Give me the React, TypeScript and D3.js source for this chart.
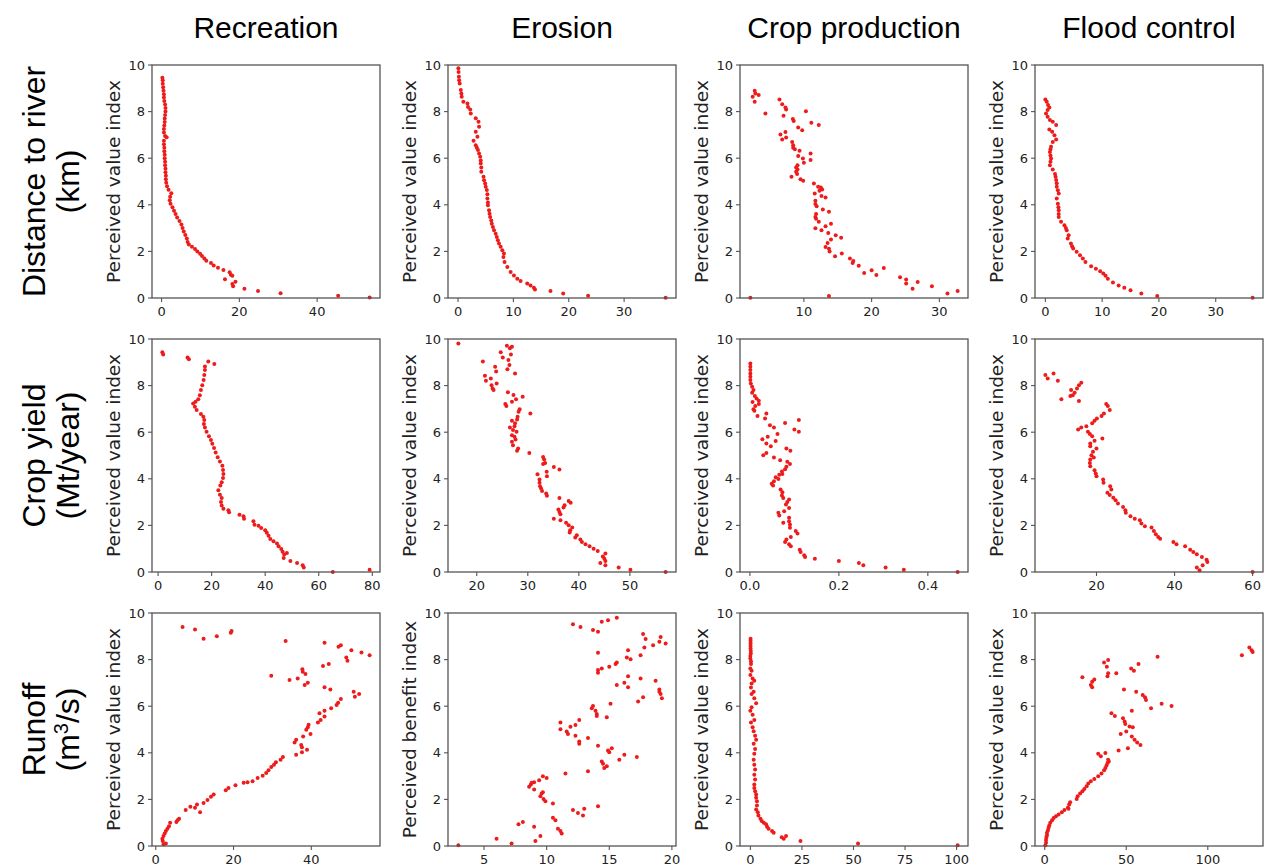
import React from "react";
import * as d3 from "d3";

type Pt = [number, number];

const columnTitles = ["Recreation", "Erosion", "Crop production", "Flood control"];
const rowTitles: [string, string][] = [
  ["Distance to river", "(km)"],
  ["Crop yield", "(Mt/year)"],
  ["Runoff", "(m3/s)"],
];

// row 1: distance to river
const recreationDistance: Pt[] = [
  [0.2, 9.45], [0.3, 9.35], [0.3, 9.2], [0.4, 9.05], [0.5, 8.9], [0.6, 8.75], [0.6, 8.6], [0.7, 8.45],
  [0.9, 8.3], [1.0, 8.15], [1.0, 8.0], [0.9, 7.85], [0.8, 7.7], [0.8, 7.55], [0.7, 7.4], [0.6, 7.25],
  [0.6, 7.1], [0.9, 6.95], [1.3, 6.9], [0.6, 6.75], [0.6, 6.6], [0.7, 6.45], [0.7, 6.3], [0.8, 6.15],
  [0.8, 6.0], [0.9, 5.85], [0.9, 5.7], [1.0, 5.55], [1.0, 5.4], [1.1, 5.25], [1.1, 5.1], [1.2, 4.95],
  [1.4, 4.8], [1.8, 4.65], [2.5, 4.5], [2.2, 4.35], [2.1, 4.2], [2.3, 4.05], [2.8, 3.9], [3.2, 3.75],
  [3.6, 3.6], [4.0, 3.45], [4.6, 3.3], [5.1, 3.15], [5.4, 3.0], [5.7, 2.85], [6.1, 2.7], [6.5, 2.55],
  [6.7, 2.4], [7.0, 2.3], [7.8, 2.2], [8.6, 2.1], [9.2, 2.0], [9.9, 1.9], [10.4, 1.8], [11.0, 1.7],
  [11.5, 1.6], [12.7, 1.5], [13.4, 1.4], [14.5, 1.3], [15.9, 1.2], [17.5, 1.1], [17.8, 1.0], [18.2, 0.95],
  [16.3, 0.8], [19.0, 0.7], [18.2, 0.6], [18.4, 0.5], [21.3, 0.4], [24.8, 0.3], [30.6, 0.2], [45.4, 0.1],
  [53.5, 0.02],
];
const erosionDistance: Pt[] = [
  [0.06, 9.86], [0.1, 9.7], [0.15, 9.5], [0.2, 9.35], [0.3, 9.21], [0.5, 8.93], [0.6, 8.78], [0.66, 8.64],
  [0.96, 8.42], [1.7, 8.35], [1.8, 8.2], [2.2, 8.09], [2.3, 7.92], [3.2, 7.71], [3.7, 7.56], [3.8, 7.35],
  [3.2, 7.13], [3.5, 6.92], [2.8, 6.75], [3.2, 6.56], [3.4, 6.45], [3.6, 6.35], [3.8, 6.2], [4.0, 6.06],
  [4.1, 5.9], [4.1, 5.77], [4.2, 5.6], [4.2, 5.42], [4.6, 5.2], [4.7, 5.05], [4.9, 4.91], [5.0, 4.77],
  [5.2, 4.63], [5.3, 4.45], [5.3, 4.27], [5.4, 4.1], [5.4, 3.98], [5.6, 3.77], [5.7, 3.62], [5.8, 3.48],
  [6.0, 3.33], [6.1, 3.19], [6.3, 3.05], [6.5, 2.91], [6.8, 2.76], [7.0, 2.62], [7.2, 2.48], [7.4, 2.34],
  [7.7, 2.2], [8.0, 2.05], [8.3, 1.91], [8.2, 1.76], [8.4, 1.55], [8.9, 1.33], [9.5, 1.12], [10.1, 0.97],
  [10.7, 0.83], [11.3, 0.73], [12.5, 0.62], [13.1, 0.54], [13.7, 0.44], [13.9, 0.36], [16.7, 0.3],
  [19.0, 0.19], [23.5, 0.1], [37.5, 0.01],
];
const cropDistance: Pt[] = [
  [2.44, 8.64], [2.74, 8.9], [2.84, 8.78], [3.33, 8.71], [2.74, 8.42], [4.32, 7.92], [6.4, 8.52], [6.8, 8.32],
  [7.28, 8.18], [7.38, 8.09], [7.0, 7.82], [8.37, 7.68], [8.5, 7.6], [10.3, 8.02], [11.1, 7.52], [12.2, 7.42],
  [9.16, 7.32], [9.75, 7.2], [7.28, 7.12], [6.54, 7.02], [7.38, 6.89], [6.8, 6.8], [8.27, 6.7], [8.42, 6.56],
  [8.42, 6.45], [8.67, 6.38], [9.36, 6.32], [10.99, 6.2], [9.16, 6.09], [9.86, 5.99], [10.99, 5.92], [10.0, 5.8],
  [9.06, 5.7], [8.86, 5.6], [9.06, 5.52], [8.86, 5.42], [9.0, 5.32], [8.17, 5.2], [9.5, 5.1], [9.9, 5.03],
  [11.48, 4.91], [12.1, 4.77], [12.5, 4.74], [12.7, 4.66], [11.6, 4.48], [12.3, 4.6], [12.6, 4.38], [13.2, 4.31],
  [11.7, 4.17], [11.7, 4.03], [11.88, 3.94], [12.8, 3.8], [13.7, 3.7], [11.8, 3.6], [11.7, 3.48], [11.8, 3.4],
  [12.2, 3.27], [14.0, 3.19], [11.7, 2.99], [12.6, 2.91], [13.2, 3.08], [13.6, 2.79], [14.7, 2.69], [15.5, 2.59],
  [14.0, 2.51], [13.5, 2.36], [13.2, 2.19], [13.7, 2.11], [13.8, 2.0], [15.6, 1.91], [14.6, 1.79], [16.8, 1.69],
  [17.3, 1.59], [17.2, 1.5], [18.1, 1.38], [20.0, 1.19], [21.8, 1.29], [18.9, 1.07], [20.7, 0.99], [24.2, 0.89],
  [25.1, 0.79], [25.1, 0.62], [26.8, 0.69], [26.05, 0.4], [28.9, 0.5], [31.2, 0.19], [32.7, 0.3], [2.1, 0.01],
  [13.7, 0.09],
];
const floodDistance: Pt[] = [
  [0.0, 8.52], [0.24, 8.42], [0.47, 8.28], [0.7, 8.18], [0.4, 8.07], [0.12, 7.92], [0.4, 7.78], [0.8, 7.64],
  [1.3, 7.56], [1.9, 7.42], [0.7, 7.23], [1.2, 7.13], [1.6, 6.99], [1.9, 6.8], [1.3, 6.7], [1.0, 6.49],
  [0.9, 6.38], [0.8, 6.27], [0.9, 6.12], [1.0, 5.99], [0.9, 5.85], [0.8, 5.7], [1.3, 5.52], [1.7, 5.32],
  [1.8, 5.2], [1.9, 5.06], [2.0, 4.92], [2.0, 4.77], [2.2, 4.62], [2.35, 4.48], [2.0, 4.27], [2.2, 4.05],
  [2.3, 3.9], [2.35, 3.77], [2.35, 3.6], [2.35, 3.48], [2.76, 3.27], [3.35, 3.12], [3.6, 3.0], [3.76, 2.91],
  [4.1, 2.69], [3.94, 2.55], [4.5, 2.34], [4.7, 2.22], [4.9, 2.12], [5.5, 1.98], [6.1, 1.83], [6.6, 1.69],
  [7.06, 1.55], [8.06, 1.36], [8.9, 1.26], [9.65, 1.15], [10.2, 1.05], [10.6, 0.95], [11.0, 0.83], [11.9, 0.66],
  [12.9, 0.54], [13.9, 0.44], [15.0, 0.33], [16.9, 0.19], [19.7, 0.09], [36.5, 0.01],
];

// row 2: crop yield
const recreationYield: Pt[] = [
  [1.6, 9.43], [1.9, 9.34], [11.0, 9.21], [11.5, 9.13], [18.75, 9.03], [21.0, 8.93], [17.5, 8.82], [17.5, 8.67],
  [17.25, 8.45], [17.0, 8.24], [16.5, 8.02], [16.0, 7.81], [15.6, 7.59], [15.0, 7.41], [14.0, 7.31], [13.1, 7.23],
  [13.75, 7.09], [14.4, 6.95], [16.0, 6.78], [16.9, 6.66], [17.25, 6.52], [17.1, 6.35], [17.5, 6.2], [18.1, 6.02],
  [19.0, 5.83], [19.75, 5.67], [20.25, 5.5], [20.9, 5.32], [21.5, 5.13], [22.25, 4.93], [23.1, 4.74], [24.0, 4.56],
  [24.25, 4.38], [24.4, 4.21], [24.25, 4.03], [23.75, 3.85], [23.25, 3.71], [22.5, 3.51], [23.1, 3.32], [23.75, 3.18],
  [23.5, 3.0], [23.75, 2.85], [24.4, 2.71], [26.25, 2.65], [26.5, 2.56], [30.4, 2.46], [31.9, 2.39], [32.1, 2.29],
  [35.6, 2.18], [36.0, 2.03], [37.5, 1.99], [38.5, 1.89], [40.0, 1.79], [40.6, 1.68], [41.25, 1.56], [41.9, 1.42],
  [43.1, 1.32], [44.4, 1.22], [45.0, 1.1], [46.0, 0.99], [46.5, 0.87], [47.1, 0.75], [48.1, 0.82], [46.9, 0.6],
  [49.4, 0.47], [51.9, 0.39], [54.0, 0.29], [54.4, 0.19], [65.25, 0.0], [79.0, 0.1],
];
const erosionYield: Pt[] = [
  [16.4, 9.81], [21.2, 9.03], [21.6, 8.42], [21.8, 8.21], [22.75, 8.31], [22.9, 8.02], [23.1, 7.88], [23.3, 7.81],
  [23.9, 8.09], [23.6, 8.81], [23.8, 8.6], [24.7, 9.43], [25.1, 9.21], [25.9, 9.71], [26.5, 9.6], [26.9, 9.67],
  [26.7, 9.34], [26.2, 9.1], [26.4, 8.88], [26.0, 8.7], [27.5, 8.52], [26.1, 7.71], [27.2, 7.6], [29.0, 7.52],
  [27.7, 7.41], [26.9, 7.31], [25.6, 7.21], [25.8, 7.12], [28.4, 6.98], [28.2, 6.88], [30.5, 6.8], [28.0, 6.66],
  [27.9, 6.55], [26.9, 6.49], [27.5, 6.38], [27.4, 6.26], [26.5, 6.2], [27.1, 6.09], [27.8, 6.02], [26.9, 5.87],
  [27.4, 5.8], [27.6, 5.69], [26.9, 5.59], [27.1, 5.44], [28.1, 5.3], [27.9, 5.2], [30.3, 5.11], [33.0, 4.94],
  [33.2, 4.83], [33.4, 4.68], [33.0, 4.63], [35.1, 4.51], [36.2, 4.4], [33.7, 4.3], [31.9, 4.2], [33.75, 4.11],
  [32.3, 3.97], [32.3, 3.83], [32.4, 3.68], [32.6, 3.58], [32.8, 3.48], [33.6, 3.37], [33.75, 3.27], [36.2, 3.18],
  [38.0, 3.05], [38.4, 2.97], [37.2, 2.87], [37.0, 2.77], [36.0, 2.68], [36.2, 2.58], [36.4, 2.48], [35.1, 2.29],
  [36.4, 2.22], [37.5, 2.11], [38.0, 2.01], [38.7, 1.91], [38.3, 1.79], [38.2, 1.69], [39.6, 1.58], [39.3, 1.48],
  [40.3, 1.39], [40.6, 1.29], [41.3, 1.19], [42.1, 1.1], [42.9, 1.0], [43.7, 0.9], [45.2, 0.79], [44.7, 0.67],
  [45.0, 0.57], [45.2, 0.47], [44.2, 0.39], [45.2, 0.29], [47.8, 0.19], [50.1, 0.1], [57.0, 0.0],
];
const cropYield: Pt[] = [
  [0.001, 8.95], [0.001, 8.81], [0.001, 8.67], [0.001, 8.52], [0.001, 8.38], [0.001, 8.24], [0.002, 8.09],
  [0.005, 7.95], [0.008, 7.81], [0.005, 7.69], [0.011, 7.55], [0.015, 7.45], [0.02, 7.35], [0.006, 7.3],
  [0.02, 7.21], [0.012, 7.12], [0.008, 6.98], [0.01, 6.92], [0.037, 6.8], [0.017, 6.69], [0.034, 6.59],
  [0.11, 6.52], [0.045, 6.3], [0.1, 6.12], [0.11, 6.02], [0.054, 6.2], [0.079, 6.4], [0.062, 5.92], [0.04, 5.8],
  [0.028, 5.7], [0.058, 5.62], [0.037, 5.52], [0.047, 5.4], [0.082, 5.3], [0.091, 5.2], [0.037, 5.11], [0.03, 5.01],
  [0.054, 4.91], [0.068, 4.8], [0.084, 4.73], [0.09, 4.63], [0.082, 4.52], [0.079, 4.41], [0.072, 4.31],
  [0.066, 4.17], [0.058, 4.07], [0.073, 4.21], [0.064, 3.99], [0.054, 3.89], [0.049, 3.79], [0.052, 3.71],
  [0.069, 3.54], [0.073, 3.42], [0.072, 3.28], [0.075, 3.18], [0.088, 3.11], [0.084, 3.0], [0.081, 2.9],
  [0.088, 2.75], [0.077, 2.61], [0.064, 2.54], [0.066, 2.43], [0.088, 2.33], [0.088, 2.18], [0.075, 2.11],
  [0.09, 2.04], [0.09, 1.9], [0.103, 1.76], [0.107, 1.65], [0.092, 1.5], [0.082, 1.39], [0.079, 1.29],
  [0.088, 1.19], [0.092, 1.1], [0.112, 0.96], [0.114, 0.86], [0.122, 0.72], [0.124, 0.64], [0.146, 0.57],
  [0.2, 0.47], [0.245, 0.39], [0.255, 0.29], [0.305, 0.19], [0.346, 0.1], [0.467, 0.0],
];
const floodYield: Pt[] = [
  [6.9, 8.45], [7.5, 8.31], [9.0, 8.52], [10.1, 8.21], [11.0, 7.41], [13.5, 7.81], [13.3, 7.55], [14.4, 7.69],
  [15.0, 7.88], [15.5, 8.02], [16.1, 8.12], [13.9, 7.59], [15.5, 7.34], [22.5, 7.21], [22.9, 7.12], [23.4, 6.95],
  [21.9, 6.8], [21.3, 6.69], [20.1, 6.59], [19.5, 6.49], [18.9, 6.38], [17.4, 6.26], [16.1, 6.2], [15.3, 6.12],
  [17.8, 6.02], [18.3, 5.92], [18.9, 5.83], [21.5, 5.73], [19.5, 5.63], [18.4, 5.52], [18.4, 5.4], [20.0, 5.3],
  [19.1, 5.16], [18.7, 5.01], [18.4, 4.83], [19.3, 4.91], [18.3, 4.68], [18.4, 4.54], [19.5, 4.37], [19.8, 4.23],
  [20.0, 4.11], [21.7, 3.97], [21.8, 3.83], [23.5, 3.68], [23.8, 3.54], [22.8, 3.4], [23.4, 3.3], [24.3, 3.19],
  [24.9, 3.08], [25.5, 2.94], [26.8, 2.79], [27.4, 2.65], [27.5, 2.54], [28.7, 2.39], [29.8, 2.29], [31.1, 2.22],
  [31.5, 2.08], [32.4, 1.96], [34.1, 1.91], [34.7, 1.76], [35.2, 1.62], [35.8, 1.5], [36.3, 1.43], [39.7, 1.29],
  [40.5, 1.19], [42.7, 1.1], [44.0, 0.96], [44.8, 0.86], [45.7, 0.76], [47.0, 0.64], [48.2, 0.53], [48.4, 0.43],
  [47.2, 0.29], [45.7, 0.19], [46.4, 0.07], [60.0, 0.0],
];

// row 3: runoff
const recreationRunoff: Pt[] = [
  [6.9, 9.4], [10.1, 9.29], [12.3, 8.9], [15.7, 9.0], [19.3, 9.15], [19.5, 9.23], [33.4, 8.8], [43.4, 8.72],
  [47.0, 8.55], [47.6, 8.62], [50.3, 8.4], [52.9, 8.3], [55.0, 8.19], [49.0, 8.09], [49.3, 7.95], [44.5, 7.81],
  [43.0, 7.72], [37.7, 7.59], [37.8, 7.48], [38.5, 7.38], [29.7, 7.31], [36.5, 7.19], [34.4, 7.12], [39.1, 7.01],
  [38.3, 6.91], [43.4, 6.81], [44.9, 6.72], [50.9, 6.62], [52.3, 6.52], [51.2, 6.41], [47.6, 6.31], [46.9, 6.15],
  [46.5, 6.05], [45.1, 5.91], [43.4, 5.81], [42.1, 5.7], [43.4, 5.56], [42.4, 5.41], [41.7, 5.3], [39.3, 5.2],
  [39.1, 5.1], [38.7, 4.99], [39.8, 4.81], [37.9, 4.7], [36.1, 4.56], [35.7, 4.44], [37.4, 4.34], [37.6, 4.24],
  [38.9, 4.13], [37.6, 4.02], [36.1, 3.92], [32.7, 3.82], [32.1, 3.7], [30.9, 3.59], [30.4, 3.49], [29.7, 3.39],
  [29.0, 3.25], [28.4, 3.13], [27.5, 3.02], [26.2, 2.92], [24.9, 2.78], [23.6, 2.74], [22.6, 2.71], [20.5, 2.61],
  [18.7, 2.49], [18.0, 2.39], [14.9, 2.21], [14.2, 2.11], [13.3, 1.97], [12.3, 1.85], [10.6, 1.78], [10.1, 1.64],
  [11.4, 1.45], [8.9, 1.68], [7.7, 1.54], [6.0, 1.17], [5.6, 1.1], [5.3, 1.03], [3.7, 1.0], [3.4, 0.85],
  [3.0, 0.74], [2.6, 0.64], [2.3, 0.54], [2.0, 0.43], [1.7, 0.31], [1.8, 0.21], [2.6, 0.11], [2.0, 0.07],
];
const erosionRunoff: Pt[] = [
  [2.95, 0.03], [6.0, 0.31], [7.2, 0.11], [7.75, 0.93], [8.1, 1.03], [9.0, 0.83], [9.1, 0.21], [9.5, 0.43],
  [8.6, 2.54], [8.74, 2.64], [8.8, 2.71], [9.0, 2.74], [9.0, 2.42], [9.4, 2.82], [9.7, 2.99], [10.0, 2.92],
  [9.5, 2.14], [9.6, 2.25], [9.7, 2.31], [9.75, 2.02], [9.9, 1.92], [10.5, 1.82], [10.5, 1.21], [10.7, 1.11],
  [10.9, 0.74], [11.1, 0.64], [11.2, 0.54], [11.5, 3.11], [11.1, 5.3], [11.1, 5.01], [11.6, 4.91], [11.7, 4.81],
  [11.9, 5.12], [12.3, 5.19], [12.6, 5.41], [12.3, 4.73], [12.6, 4.49], [12.6, 4.39], [13.3, 4.64], [13.3, 3.21],
  [12.1, 1.54], [12.5, 1.42], [12.9, 1.31], [13.0, 1.6], [14.1, 1.71], [12.1, 9.52], [12.7, 9.4], [13.7, 9.27],
  [14.1, 9.19], [14.4, 9.62], [14.9, 9.69], [15.6, 9.8], [14.1, 8.29], [14.1, 7.55], [14.4, 7.62], [14.1, 7.44],
  [15.0, 7.69], [15.5, 7.81], [15.6, 7.88], [15.6, 6.91], [16.4, 8.09], [16.5, 8.4], [16.7, 8.01], [16.5, 7.29],
  [16.2, 7.01], [16.5, 6.81], [15.1, 6.1], [13.6, 5.91], [13.7, 6.01], [13.9, 5.81], [14.0, 5.67], [14.0, 5.58],
  [14.8, 5.53], [14.1, 4.3], [14.4, 3.63], [14.5, 3.53], [14.6, 3.35], [14.8, 3.42], [14.9, 4.1], [15.0, 4.02],
  [15.2, 4.2], [15.8, 3.7], [16.2, 3.92], [17.2, 3.82], [17.3, 6.2], [17.5, 7.19], [17.7, 6.38], [17.7, 9.1],
  [17.9, 8.88], [17.8, 8.52], [17.5, 8.19], [18.5, 8.62], [18.7, 7.09], [19.0, 6.72], [19.0, 6.62], [19.1, 6.52],
  [19.2, 6.34], [19.0, 8.77], [19.1, 8.97], [19.5, 8.69],
];
const cropRunoff: Pt[] = [
  [0.1, 8.9], [0.1, 8.8], [0.1, 8.69], [0.1, 8.58], [0.1, 8.48], [0.2, 8.37], [0.2, 8.26], [0.0, 8.15],
  [0.0, 8.05], [0.3, 7.93], [0.3, 7.81], [0.0, 7.62], [0.6, 7.52], [0.0, 7.34], [1.1, 7.19], [1.9, 7.09],
  [0.6, 6.97], [0.3, 6.8], [1.6, 6.62], [0.6, 6.52], [1.9, 6.34], [2.8, 6.13], [0.6, 5.95], [0.0, 5.81],
  [1.1, 5.63], [1.9, 5.41], [0.3, 5.3], [1.1, 5.1], [1.6, 4.92], [2.3, 4.73], [2.8, 4.56], [1.6, 4.39],
  [2.3, 4.16], [1.9, 3.96], [1.6, 3.7], [1.9, 3.49], [2.3, 3.28], [1.9, 3.06], [2.3, 2.85], [1.9, 2.64],
  [1.9, 2.49], [2.3, 2.35], [2.8, 2.21], [2.8, 2.07], [3.2, 1.92], [3.2, 1.74], [2.8, 1.57], [3.6, 1.45],
  [3.9, 1.31], [4.9, 1.17], [5.5, 1.07], [6.5, 1.0], [7.6, 0.93], [8.1, 0.83], [8.8, 0.74], [10.5, 0.64],
  [11.3, 0.57], [15.2, 0.38], [16.2, 0.31], [17.3, 0.43], [24.3, 0.21], [52.2, 0.11], [100.5, 0.03],
];
const floodRunoff: Pt[] = [
  [0.4, 0.03], [0.8, 0.14], [0.8, 0.26], [1.0, 0.36], [1.4, 0.46], [1.4, 0.57], [2.0, 0.68], [2.4, 0.78],
  [2.8, 0.88], [3.4, 1.0], [4.5, 1.11], [5.5, 1.2], [6.9, 1.28], [8.5, 1.35], [10.5, 1.45], [12.1, 1.54],
  [14.2, 1.64], [15.0, 1.78], [15.6, 1.88], [14.6, 1.6], [19.6, 2.02], [20.2, 2.14], [21.7, 2.25], [23.1, 2.35],
  [24.3, 2.45], [25.7, 2.56], [26.7, 2.68], [28.3, 2.78], [30.4, 2.88], [32.8, 2.99], [34.8, 3.11], [36.4, 3.25],
  [37.2, 3.35], [37.9, 3.45], [38.5, 3.56], [39.3, 3.63], [38.9, 3.7], [32.8, 3.96], [34.4, 3.85], [37.2, 3.99],
  [45.3, 4.1], [51.0, 4.2], [58.7, 4.34], [56.7, 4.44], [55.1, 4.56], [53.4, 4.7], [46.6, 4.81], [50.0, 4.91],
  [54.0, 5.1], [52.0, 5.13], [49.4, 5.24], [49.0, 5.34], [48.0, 5.48], [43.0, 5.58], [40.9, 5.7], [53.4, 5.81],
  [65.2, 5.91], [62.1, 6.27], [61.5, 6.38], [60.1, 6.48], [56.1, 6.62], [48.6, 6.72], [71.7, 6.1], [77.8, 6.01],
  [29.1, 6.81], [28.3, 6.91], [29.1, 7.05], [30.4, 7.15], [23.1, 7.24], [38.9, 7.41], [43.9, 7.41], [38.5, 7.29],
  [54.7, 7.52], [53.0, 7.62], [57.5, 7.81], [36.4, 7.88], [38.1, 7.69], [38.9, 7.98], [69.2, 8.12], [120.9, 8.19],
  [125.5, 8.52], [126.9, 8.4], [127.5, 8.33],
];

const panelData: Pt[][][] = [
  [recreationDistance, erosionDistance, cropDistance, floodDistance],
  [recreationYield, erosionYield, cropYield, floodYield],
  [recreationRunoff, erosionRunoff, cropRunoff, floodRunoff],
];
const xTicks: number[][][] = [
  [[0, 20, 40], [0, 10, 20, 30], [10, 20, 30], [0, 10, 20, 30]],
  [[0, 20, 40, 60, 80], [20, 30, 40, 50], [0, 0.2, 0.4], [20, 40, 60]],
  [[0, 20, 40], [5, 10, 15, 20], [0, 25, 50, 75, 100], [0, 50, 100]],
];
const yTicks = [0, 2, 4, 6, 8, 10];
const yLabels = [
  ["Perceived value index", "Perceived value index", "Perceived value index", "Perceived value index"],
  ["Perceived value index", "Perceived value index", "Perceived value index", "Perceived value index"],
  ["Perceived value index", "Perceived benefit index", "Perceived value index", "Perceived value index"],
];

const W = 1264;
const H = 868;
const colLeft = [152, 448, 740, 1035];
const rowTop = [65, 339, 613];
const axW = 228;
const axH = 233;
const red = "#ee1b1b";
const tickFont = "DejaVu Sans, sans-serif";
const titleFont = "Liberation Sans, Arial, sans-serif";

function Panel({ data, ticks, label, left, top }: { data: Pt[]; ticks: number[]; label: string; left: number; top: number }) {
  const [lo, hi] = d3.extent(data, (d) => d[0]) as [number, number];
  const pad = (hi - lo) * 0.05;
  const x = d3.scaleLinear().domain([lo - pad, hi + pad]).range([0, axW]);
  const y = d3.scaleLinear().domain([0, 10]).range([axH, 0]);
  const fmt = ticks.some((t) => !Number.isInteger(t)) ? d3.format(".1f") : d3.format("d");
  return (
    <g transform={`translate(${left},${top})`}>
      <rect width={axW} height={axH} fill="white" />
      {data.map((d, i) => (
        <circle key={i} cx={x(d[0])} cy={y(d[1])} r={2} fill={red} />
      ))}
      <rect width={axW} height={axH} fill="none" stroke="#555" strokeWidth={1.3} />
      {yTicks.map((t) => (
        <g key={t} transform={`translate(0,${y(t)})`}>
          <line x1={-4} x2={0} stroke="#555" strokeWidth={1.1} />
          <text x={-7} dy="0.35em" textAnchor="end" fontSize={13} fontFamily={tickFont} fill="#222">
            {t}
          </text>
        </g>
      ))}
      {ticks.map((t) => (
        <g key={t} transform={`translate(${x(t)},${axH})`}>
          <line y1={0} y2={4} stroke="#555" strokeWidth={1.1} />
          <text y={8} dy="0.75em" textAnchor="middle" fontSize={13} fontFamily={tickFont} fill="#222">
            {fmt(t)}
          </text>
        </g>
      ))}
      <text
        transform={`translate(-32,${axH / 2}) rotate(-90)`}
        textAnchor="middle"
        fontSize={18.5}
        fontFamily={tickFont}
        fill="#222"
      >
        {label}
      </text>
    </g>
  );
}

export default function App() {
  return (
    <svg width={W} height={H} style={{ position: "absolute", left: 0, top: 0, background: "white" }}>
      <rect width={W} height={H} fill="white" />
      {columnTitles.map((t, c) => (
        <text key={t} x={colLeft[c] + axW / 2} y={38} textAnchor="middle" fontSize={30} fontFamily={titleFont} fill="#000">
          {t}
        </text>
      ))}
      {rowTitles.map((lines, r) => {
        const cy = rowTop[r] + axH / 2;
        return (
          <g key={r} transform={`translate(0,${cy}) rotate(-90)`} fontSize={32} fontFamily={titleFont} fill="#000">
            <text x={0} y={45} textAnchor="middle">
              {lines[0]}
            </text>
            <text x={0} y={79} textAnchor="middle">
              {r === 2 ? (
                <>
                  (m<tspan baselineShift="super" fontSize={20}>3</tspan>/s)
                </>
              ) : (
                lines[1]
              )}
            </text>
          </g>
        );
      })}
      {panelData.map((row, r) =>
        row.map((data, c) => (
          <Panel key={`${r}-${c}`} data={data} ticks={xTicks[r][c]} label={yLabels[r][c]} left={colLeft[c]} top={rowTop[r]} />
        ))
      )}
    </svg>
  );
}
